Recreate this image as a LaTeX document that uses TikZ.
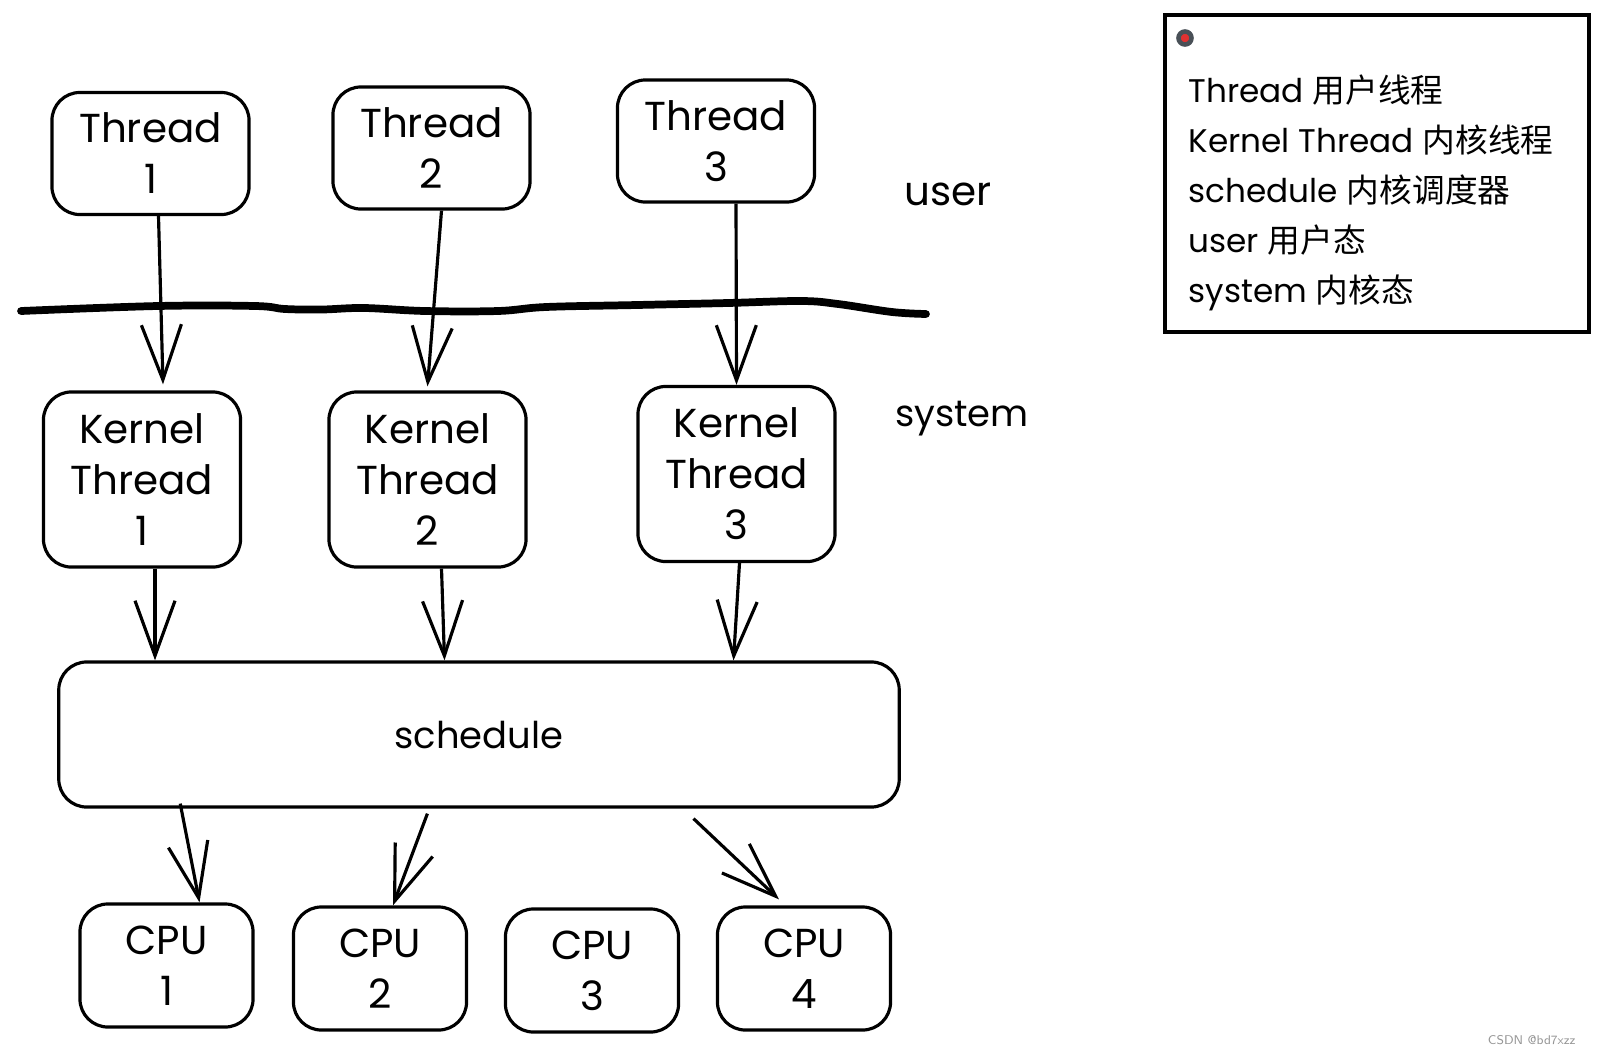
\documentclass[tikz,border=0pt]{standalone}
\usepackage{fontspec}
\setmainfont{Poppins}
\newfontfamily\cjk{Noto Sans CJK SC}
\usetikzlibrary{arrows.meta,positioning}
\definecolor{dotred}{RGB}{224,49,49}
\definecolor{dotgray}{RGB}{73,80,87}
\definecolor{markgray}{RGB}{150,150,150}

\begin{document}
\begin{tikzpicture}[x=0.01cm, y=-0.01cm,
  box/.style={draw, line width=0.9pt, rounded corners=0.28cm, align=center,
    inner sep=0pt, font=\fontsize{11.5}{14.5}\selectfont},
  thrbox/.style={box, minimum width=1.97cm, minimum height=1.22cm},
  kthbox/.style={box, minimum width=1.97cm, minimum height=1.75cm},
  cpubox/.style={box, minimum width=1.73cm, minimum height=1.23cm},
  link/.style={line width=0.9pt, -{Straight Barb[length=0.55cm, width=0.4cm]}}]
\useasboundingbox (0,0) rectangle (1602,1054);
% User threads
\foreach \i/\x/\y in {1/150.5/153.5, 2/431.5/148, 3/716/141}
  \node[thrbox] (thr\i) at (\x,\y) {Thread\\\i};
% Kernel threads
\foreach \i/\x/\y in {1/142/479.5, 2/427.5/479.5, 3/736.5/474}
  \node[kthbox] (kth\i) at (\x,\y) {Kernel\\Thread\\\i};
% Scheduler
\node[box, minimum width=8.4cm, minimum height=1.45cm, font=\fontsize{10.5}{13}\selectfont]
  (sched) at (479,734.5) {schedule};
% CPUs
\foreach \i/\x/\y in {1/166.5/965.5, 2/380/968.5, 3/592/970.5, 4/804/968.5}
  \node[cpubox] (cpu\i) at (\x,\y) {CPU\\\i};
% Boundary user / system
\draw[line width=2.2pt, line cap=round] plot[smooth, tension=0.6] coordinates {
  (21,311) (158,306) (255,306) (285,309) (322,309.5) (364,308) (425,311)
  (498,311) (546,307) (637,305) (728,303) (801,301) (838,304) (892,312) (926,314)};
\node[font=\fontsize{11.5}{14}\selectfont] (user) at (948,194) {user};
\node[font=\fontsize{10.5}{13}\selectfont] (system) at (962,419) {system};
% Thread -> kernel thread
\draw[link] ([xshift=0.08cm]thr1.south) -- ([xshift=0.21cm, yshift=0.06cm]kth1.north);
\draw[link] ([xshift=0.1cm]thr2.south) -- ([yshift=0.04cm]kth2.north);
\draw[link] ([xshift=0.2cm]thr3.south) -- (kth3.north);
% Kernel thread -> schedule
\draw[link] ([xshift=0.13cm]kth1.south) -- ([xshift=0.13cm]kth1.south |- sched.north);
\draw[link] ([xshift=0.14cm]kth2.south) -- ([xshift=0.17cm]kth2.south |- sched.north);
\draw[link] ([xshift=0.03cm]kth3.south) -- ([xshift=-0.03cm]kth3.south |- sched.north);
% Schedule -> CPU
\draw[link] ([xshift=1.23cm, yshift=0.05cm]sched.south west) -- ([xshift=0.33cm]cpu1.north);
\draw[link] ([xshift=3.7cm, yshift=-0.05cm]sched.south west) -- ([xshift=0.13cm]cpu2.north);
\draw[link] ([xshift=6.36cm, yshift=-0.1cm]sched.south west) -- ([xshift=-0.25cm, yshift=0.06cm]cpu4.north);
% Legend
\node[draw, line width=1pt, minimum width=4.24cm, minimum height=3.17cm] (legend) at (1377,173.5) {};
\fill[dotred, draw=dotgray, line width=1.3pt] (1185,38) circle (0.065cm);
\node[anchor=west, align=left, inner sep=0pt, font=\fontsize{9.3}{14.2}\selectfont] (legtxt) at (1188,193) {
  Thread {\cjk 用户线程}\\
  Kernel Thread {\cjk 内核线程}\\
  schedule {\cjk 内核调度器}\\
  user {\cjk 用户态}\\
  system {\cjk 内核态}};
\node[anchor=east, text=markgray, font=\fontsize{3.6}{4}\selectfont\sffamily] (mark) at (1588,1040) {CSDN @bd7xzz};
\end{tikzpicture}
\end{document}
